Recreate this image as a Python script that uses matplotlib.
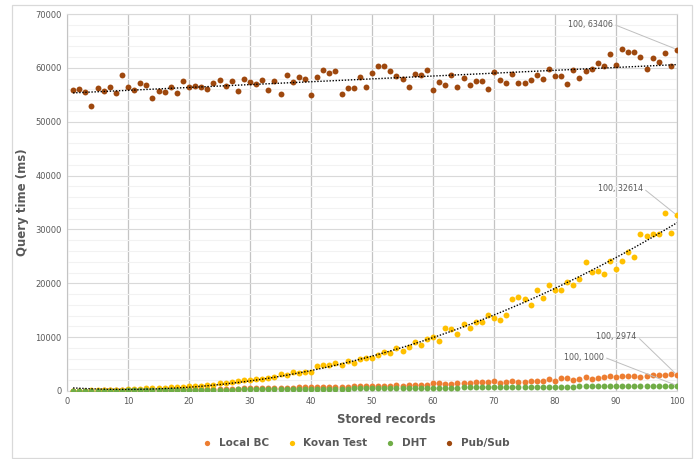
import numpy as np
import matplotlib
matplotlib.use('Agg')
import matplotlib.pyplot as plt
from matplotlib.ticker import MultipleLocator
from matplotlib.patches import Rectangle

# stored records (x) and query times (ms) per approach
records = list(range(1, 101))

local_bc = [40, 50, 60, 70, 90, 100, 120, 130, 140, 160,
            170, 190, 200, 220, 230, 250, 260, 280, 300, 320,
            330, 350, 370, 390, 400, 420, 440, 460, 480, 500,
            510, 530, 550, 570, 590, 610, 630, 660, 670, 720,
            750, 710, 760, 820, 800, 810, 850, 880, 870, 920,
            950, 980, 960, 1040, 1010, 1060, 1120, 1100, 1170, 1420,
            1480, 1360, 1360, 1540, 1540, 1480, 1730, 1730, 1730, 1790,
            1540, 1730, 1790, 1730, 1730, 1910, 1850, 1790, 2160, 1850,
            2350, 2350, 2040, 2220, 2530, 2280, 2410, 2590, 2780, 2650,
            2840, 2840, 2720, 2590, 2840, 2900, 2900, 2960, 3090, 2974]

kovan_test = [50, 60, 80, 100, 120, 150, 180, 210, 250, 300,
              370, 430, 500, 500, 560, 620, 680, 680, 800, 850,
              930, 990, 1050, 1180, 1450, 1550, 1640, 1790, 2040, 1980,
              2200, 2220, 2410, 2590, 3210, 3020, 3460, 3270, 3520, 3580,
              4630, 4810, 4750, 5190, 4750, 5620, 5190, 5860, 6050, 6110,
              6600, 7220, 6980, 7960, 7470, 8150, 9140, 8460, 9630, 10000,
              9320, 11790, 11540, 10560, 12410, 11790, 12720, 12900, 14140, 13640,
              13150, 14200, 17040, 17410, 17100, 15930, 18770, 17350, 19750, 18700,
              18770, 20250, 19690, 20860, 23890, 22040, 22350, 21730, 24200, 22720,
              24140, 25860, 24940, 29140, 28700, 29140, 29070, 32960, 29380, 32614]

dht = [20, 30, 30, 40, 50, 60, 70, 80, 90, 100,
       110, 120, 130, 140, 150, 160, 170, 180, 190, 200,
       210, 220, 230, 240, 250, 260, 270, 280, 290, 300,
       310, 320, 330, 340, 350, 360, 370, 380, 390, 400,
       410, 420, 430, 440, 450, 460, 470, 480, 490, 500,
       510, 520, 530, 540, 550, 560, 570, 580, 590, 600,
       610, 620, 630, 640, 650, 660, 670, 680, 690, 700,
       710, 720, 730, 740, 750, 760, 770, 780, 790, 800,
       810, 820, 830, 840, 850, 860, 870, 880, 890, 900,
       910, 920, 930, 940, 950, 960, 970, 980, 990, 1000]

pub_sub = [55900, 56090, 55470, 52980, 56210, 55780, 56400, 55340, 58630, 56520,
           55840, 57140, 56770, 54410, 55650, 55590, 56520, 55340, 57640, 56400,
           56650, 56520, 56020, 57140, 57700, 56710, 57640, 55710, 57890, 57330,
           56960, 57830, 55900, 57520, 55160, 58630, 57450, 58320, 58010, 55030,
           58260, 59570, 59130, 59380, 55160, 56210, 56340, 58320, 56520, 59010,
           60370, 60370, 59440, 58450, 58010, 56400, 58820, 58700, 59690, 55840,
           57330, 56830, 58630, 56460, 58200, 56890, 57580, 57580, 56020, 59250,
           57830, 57270, 58940, 57200, 57140, 57700, 58630, 58010, 59750, 58450,
           58450, 57020, 59690, 58140, 59440, 59810, 60810, 60370, 62550, 60500,
           63420, 62980, 62920, 62050, 59880, 61740, 61120, 62800, 60370, 63406]

series_names = ['Local BC', 'Kovan Test', 'DHT', 'Pub/Sub']
colors = ['#ED7D31', '#FFC000', '#70AD47', '#9E480E']
grey = '#595959'

fig = plt.figure(figsize=(6.98, 4.59), dpi=100)
ax = fig.add_axes([67 / 698, 1 - 391 / 459, 610 / 698, 377 / 459])

# outer chart border
fig.patches.append(Rectangle((12 / 698, 1 / 459), 680 / 698, 453 / 459, transform=fig.transFigure,
                             fill=False, edgecolor='#d9d9d9', lw=0.9))

x = np.array(records)
for name, vals, c in zip(series_names, [local_bc, kovan_test, dht, pub_sub], colors):
    ax.scatter(x, vals, s=18, color=c, label=name, zorder=3, linewidths=0)

# trendlines (linear for Pub/Sub, polynomial order 2 for Kovan)
lin = np.polyfit(x, pub_sub, 1)
ax.plot(x, np.polyval(lin, x), color='black', ls=(0, (1, 1.2)), lw=1.0, zorder=4)
quad = np.polyfit(x, kovan_test, 2)
ax.plot(x, np.polyval(quad, x), color='black', ls=(0, (1, 1.2)), lw=1.0, zorder=4)

ax.set_xlim(0, 100)
ax.set_ylim(0, 70000)
ax.xaxis.set_major_locator(MultipleLocator(10))
ax.yaxis.set_major_locator(MultipleLocator(10000))
ax.yaxis.set_minor_locator(MultipleLocator(2000))
ax.grid(which='major', axis='y', color='#d9d9d9', lw=0.8, zorder=0)
ax.grid(which='minor', axis='y', color='#f2f2f2', lw=0.8, zorder=0)
ax.grid(which='major', axis='x', color='#c4c4c4', lw=0.9, zorder=0)
ax.set_axisbelow(True)
ax.tick_params(which='both', length=0, labelsize=6, labelcolor=grey, pad=4)
for side in ['top', 'bottom']:
    ax.spines[side].set_color('#d9d9d9')
for side in ['left', 'right']:
    ax.spines[side].set_color('#c4c4c4')

ax.set_xlabel('Stored records', fontsize=8.5, fontweight='bold', color=grey)
ax.xaxis.set_label_coords(0.523, -0.058)
ax.set_ylabel('Query time (ms)', fontsize=8.5, fontweight='bold', color=grey)
ax.yaxis.set_label_coords(-0.063, 0.5)

# data labels for the last point of each series
labels = [(pub_sub[-1], 89.5, 68140), (kovan_test[-1], 94.4, 37690),
          (local_bc[-1], 93.4, 10210), (dht[-1], 88.0, 6310)]
for val, tx, ty in labels:
    ax.annotate(f'100, {val}', xy=(100, val), xytext=(tx, ty), ha='right', va='center',
                fontsize=5.8, color=grey, annotation_clip=False,
                arrowprops=dict(arrowstyle='-', color='#bfbfbf', lw=0.7,
                                shrinkA=0, shrinkB=2, relpos=(1, 0.5)))

fig.legend(loc='center', bbox_to_anchor=(0.506, 1 - 443 / 459), ncol=4, frameon=False,
           prop={'size': 7.5, 'weight': 'bold'}, labelcolor=grey, handletextpad=0.1,
           columnspacing=1.2, markerscale=0.9)

fig.savefig('out.png', dpi=100)
